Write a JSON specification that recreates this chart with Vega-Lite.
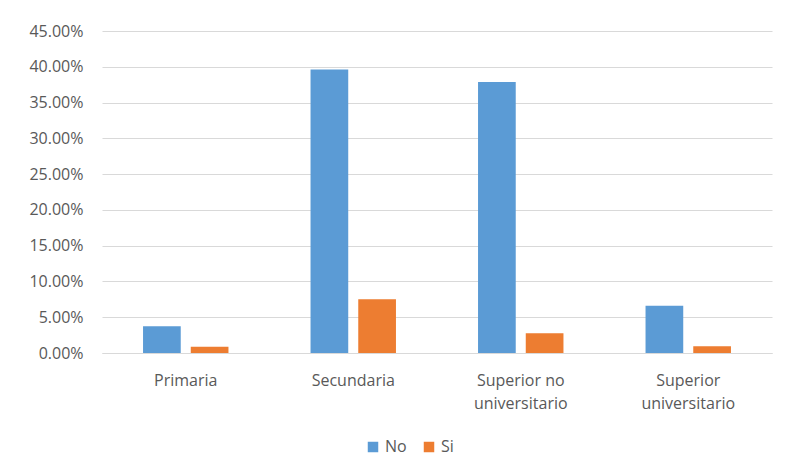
{
  "$schema": "https://vega.github.io/schema/vega-lite/v6.json",
  "autosize": {"type": "none"},
  "width": 670,
  "height": 322,
  "padding": {"left": 102, "top": 31, "right": 13, "bottom": 122},
  "background": "white",
  "config": {
    "view": {"stroke": null},
    "font": "Open Sans"
  },
  "data": {
    "values": [
      {"nivel": "Primaria", "grupo": "No", "valor": 0.0374},
      {"nivel": "Primaria", "grupo": "Si", "valor": 0.0089},
      {"nivel": "Secundaria", "grupo": "No", "valor": 0.3962},
      {"nivel": "Secundaria", "grupo": "Si", "valor": 0.0752},
      {"nivel": "Superior no universitario", "grupo": "No", "valor": 0.3786},
      {"nivel": "Superior no universitario", "grupo": "Si", "valor": 0.0276},
      {"nivel": "Superior universitario", "grupo": "No", "valor": 0.0659},
      {"nivel": "Superior universitario", "grupo": "Si", "valor": 0.0094}
    ]
  },
  "mark": {"type": "bar"},
  "encoding": {
    "x": {
      "field": "nivel",
      "type": "nominal",
      "sort": null,
      "scale": {"paddingInner": 0.49, "paddingOuter": 0.245},
      "axis": {
        "title": null,
        "labelAngle": 0,
        "ticks": false,
        "domain": true,
        "domainColor": "#D9D9D9",
        "domainWidth": 1,
        "labelFontSize": 16,
        "labelColor": "#595959",
        "labelPadding": 27,
        "labelLineHeight": 23,
        "labelBaseline": "middle",
        "labelExpr": "datum.label == 'Superior no universitario' ? ['Superior no', 'universitario'] : datum.label == 'Superior universitario' ? ['Superior', 'universitario'] : datum.label"
      }
    },
    "xOffset": {
      "field": "grupo",
      "type": "nominal",
      "scale": {"paddingInner": 0.21, "paddingOuter": 0}
    },
    "y": {
      "field": "valor",
      "type": "quantitative",
      "scale": {"domain": [0, 0.45], "nice": false},
      "axis": {
        "title": null,
        "values": [0, 0.05, 0.1, 0.15, 0.2, 0.25, 0.3, 0.35, 0.4, 0.45],
        "format": ".2%",
        "domain": false,
        "ticks": false,
        "labelPadding": 19,
        "labelFontSize": 16,
        "labelColor": "#595959",
        "gridColor": "#D9D9D9",
        "gridWidth": 1
      }
    },
    "color": {
      "field": "grupo",
      "type": "nominal",
      "scale": {"domain": ["No", "Si"], "range": ["#5B9BD5", "#ED7D31"]},
      "legend": {
        "title": null,
        "orient": "none",
        "legendX": 263,
        "legendY": 408,
        "direction": "horizontal",
        "symbolType": "square",
        "symbolSize": 110,
        "symbolStrokeWidth": 0,
        "labelFontSize": 16,
        "labelColor": "#595959",
        "columnPadding": 14,
        "labelOffset": 4
      }
    }
  }
}
